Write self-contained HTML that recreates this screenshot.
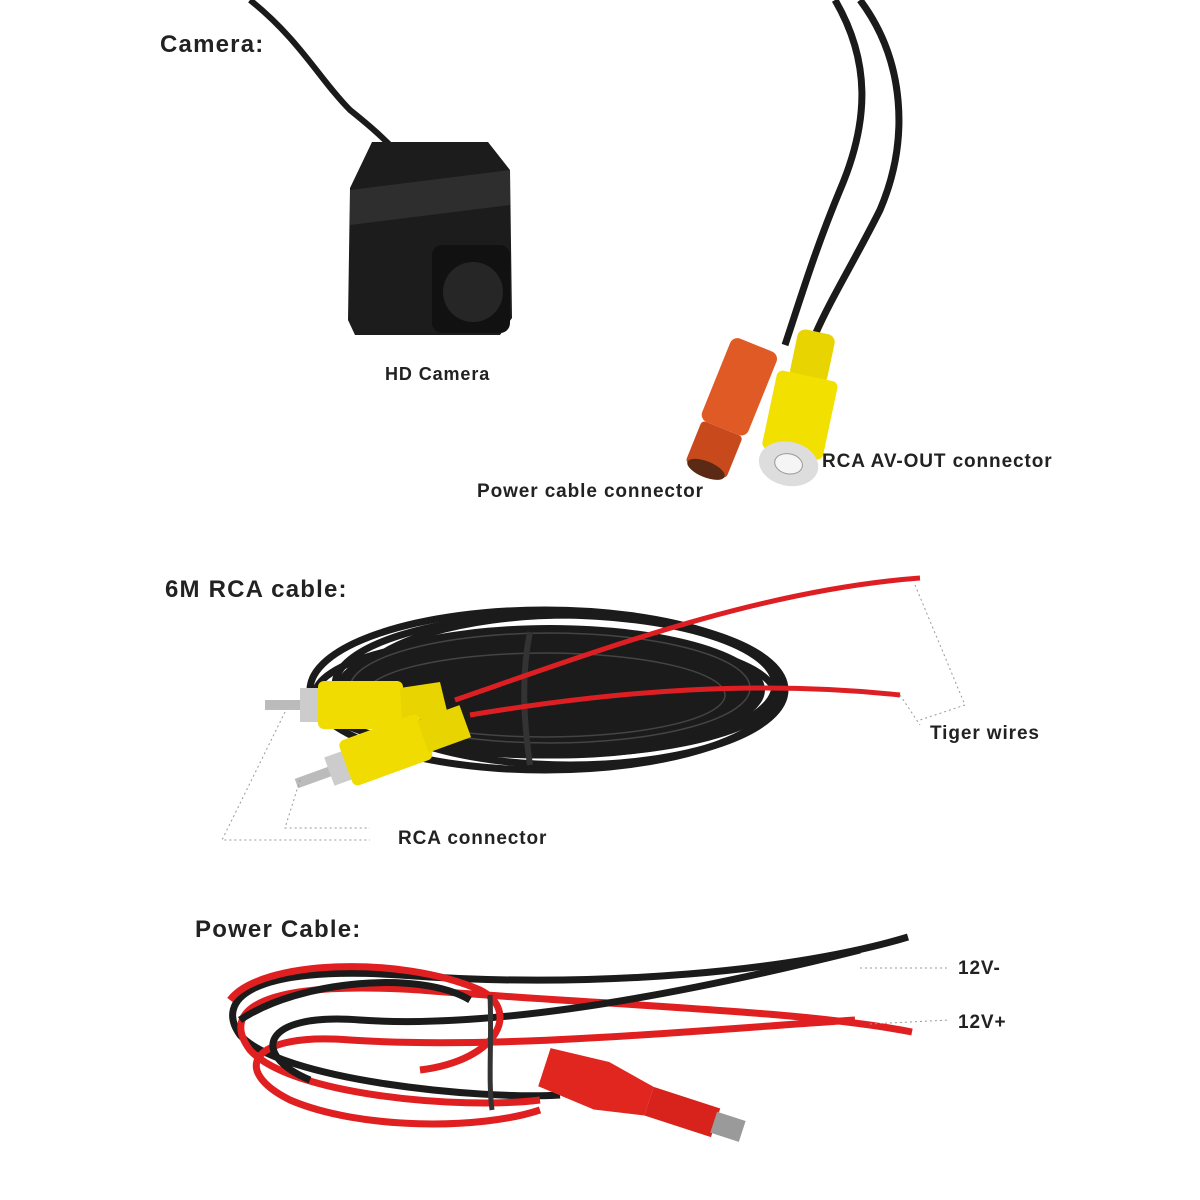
<!DOCTYPE html>
<html><head><style>
html,body{margin:0;padding:0;background:#fff;width:1200px;height:1200px;overflow:hidden}
svg{display:block}
text{font-family:"Liberation Sans",sans-serif;font-weight:bold;fill:#222}
.s{font-size:19px;letter-spacing:0.9px}
.h{font-size:24px;letter-spacing:1.2px}
</style></head><body>
<svg width="1200" height="1200" viewBox="0 0 1200 1200">
<text x="160" y="52" class="h">Camera:</text>
<path d="M250,0 C300,40 320,80 350,110 C375,130 385,140 395,150" stroke="#1a1a1a" stroke-width="6" fill="none"/>
<path d="M350,188 L372,142 L488,142 L510,170 L512,318 L500,335 L355,335 L348,320 Z" fill="#1c1c1c"/>
<path d="M350,190 L510,170 L510,205 L350,225 Z" fill="#2e2e2e"/>
<rect x="432" y="245" width="78" height="88" rx="10" fill="#111"/>
<circle cx="473" cy="292" r="30" fill="#262626"/>
<text x="385" y="380" class="s" style="font-size:18px">HD Camera</text>
<path d="M835,0 C870,60 870,120 840,190 C815,250 800,300 785,345" stroke="#1a1a1a" stroke-width="7" fill="none"/>
<path d="M860,0 C905,60 910,140 880,210 C855,260 830,300 815,335" stroke="#1a1a1a" stroke-width="7" fill="none"/>
<g transform="rotate(22 730 410)">
<rect x="705" y="340" width="50" height="90" rx="8" fill="#e05a25"/>
<rect x="708" y="430" width="44" height="45" rx="4" fill="#c84a1c"/>
<ellipse cx="730" cy="474" rx="20" ry="8" fill="#5a2a15"/>
</g>
<g transform="rotate(12 800 410)">
<rect x="782" y="330" width="38" height="50" rx="8" fill="#e8d400"/>
<rect x="770" y="375" width="62" height="80" rx="6" fill="#f2e000"/>
<ellipse cx="800" cy="465" rx="30" ry="22" fill="#ddd"/>
<ellipse cx="800" cy="465" rx="14" ry="10" fill="#f5f5f5" stroke="#999"/>
</g>
<text x="822" y="467" class="s">RCA AV-OUT connector</text>
<text x="477" y="497" class="s">Power cable connector</text>

<text x="165" y="597" class="h">6M RCA cable:</text>
<ellipse cx="550" cy="690" rx="215" ry="65" fill="#1b1b1b"/>
<g fill="none" stroke="#1b1b1b" stroke-width="7">
<ellipse cx="545" cy="690" rx="235" ry="80"/>
<ellipse cx="555" cy="685" rx="220" ry="70"/>
<ellipse cx="545" cy="695" rx="230" ry="60"/>
<ellipse cx="570" cy="690" rx="215" ry="75"/>
</g>
<g fill="none" stroke="#444" stroke-width="1.5">
<ellipse cx="550" cy="688" rx="200" ry="55"/>
<ellipse cx="545" cy="695" rx="180" ry="42"/>
</g>
<path d="M530,632 C520,680 525,730 530,765" stroke="#333" stroke-width="6" fill="none"/>
<path d="M455,700 C600,650 760,590 920,578" stroke="#dd1f24" stroke-width="5" fill="none"/>
<path d="M470,715 C620,690 760,680 900,695" stroke="#dd1f24" stroke-width="5" fill="none"/>
<rect x="265" y="700" width="40" height="10" fill="#bbb"/>
<rect x="300" y="688" width="20" height="34" fill="#ccc"/>
<rect x="318" y="681" width="85" height="48" rx="6" fill="#f0dc00"/>
<path d="M400,688 L440,682 L448,715 L402,722 Z" fill="#e8d400"/>
<g transform="rotate(-20 380 750)">
<rect x="290" y="748" width="40" height="10" fill="#bbb"/>
<rect x="325" y="738" width="20" height="30" fill="#ccc"/>
<rect x="343" y="728" width="85" height="48" rx="6" fill="#f0dc00"/>
<rect x="425" y="735" width="45" height="34" fill="#e8d400"/>
</g>
<g stroke="#999" stroke-width="1" stroke-dasharray="2,3" fill="none">
<path d="M285,712 L222,840 L370,840"/>
<path d="M300,780 L285,828 L370,828"/>
<path d="M915,585 L965,705 L920,720"/>
<path d="M900,695 L920,725"/>
</g>
<text x="398" y="844" class="s">RCA connector</text>
<text x="930" y="739" class="s">Tiger wires</text>

<text x="195" y="937" class="h">Power Cable:</text>
<g fill="none" stroke-width="7">
<path d="M908,937 C800,970 600,990 400,975 C250,965 215,1000 240,1035 C280,1080 480,1100 560,1095" stroke="#1b1b1b"/>
<path d="M912,1032 C800,1010 600,1005 420,990 C260,980 220,1010 250,1050 C290,1095 460,1110 540,1100" stroke="#e01f20"/>
<path d="M855,1020 C700,1030 500,1050 350,1040 C250,1032 230,1070 290,1100 C360,1130 480,1130 540,1110" stroke="#e01f20"/>
<path d="M860,950 C700,990 500,1030 360,1020 C260,1012 250,1055 310,1080" stroke="#1b1b1b"/>
<path d="M230,1000 C260,960 400,955 480,990 C520,1010 500,1060 420,1070" stroke="#e01f20"/>
<path d="M240,1020 C300,980 420,970 470,1000" stroke="#1b1b1b"/>
</g>
<path d="M490,995 C492,1040 488,1080 492,1110" stroke="#333" stroke-width="5" fill="none"/>
<g transform="rotate(18 630 1095)">
<path d="M540,1075 L600,1070 L650,1080 L650,1110 L600,1120 L540,1115 Z" fill="#e0261f"/>
<rect x="650" y="1080" width="70" height="30" fill="#d8231c"/>
<rect x="718" y="1084" width="30" height="22" fill="#9a9a9a"/>
</g>
<g stroke="#999" stroke-width="1" stroke-dasharray="2,3">
<line x1="860" y1="968" x2="950" y2="968"/>
<line x1="870" y1="1024" x2="950" y2="1020"/>
</g>
<text x="958" y="974" class="s">12V-</text>
<text x="958" y="1028" class="s">12V+</text>
</svg>
</body></html>
